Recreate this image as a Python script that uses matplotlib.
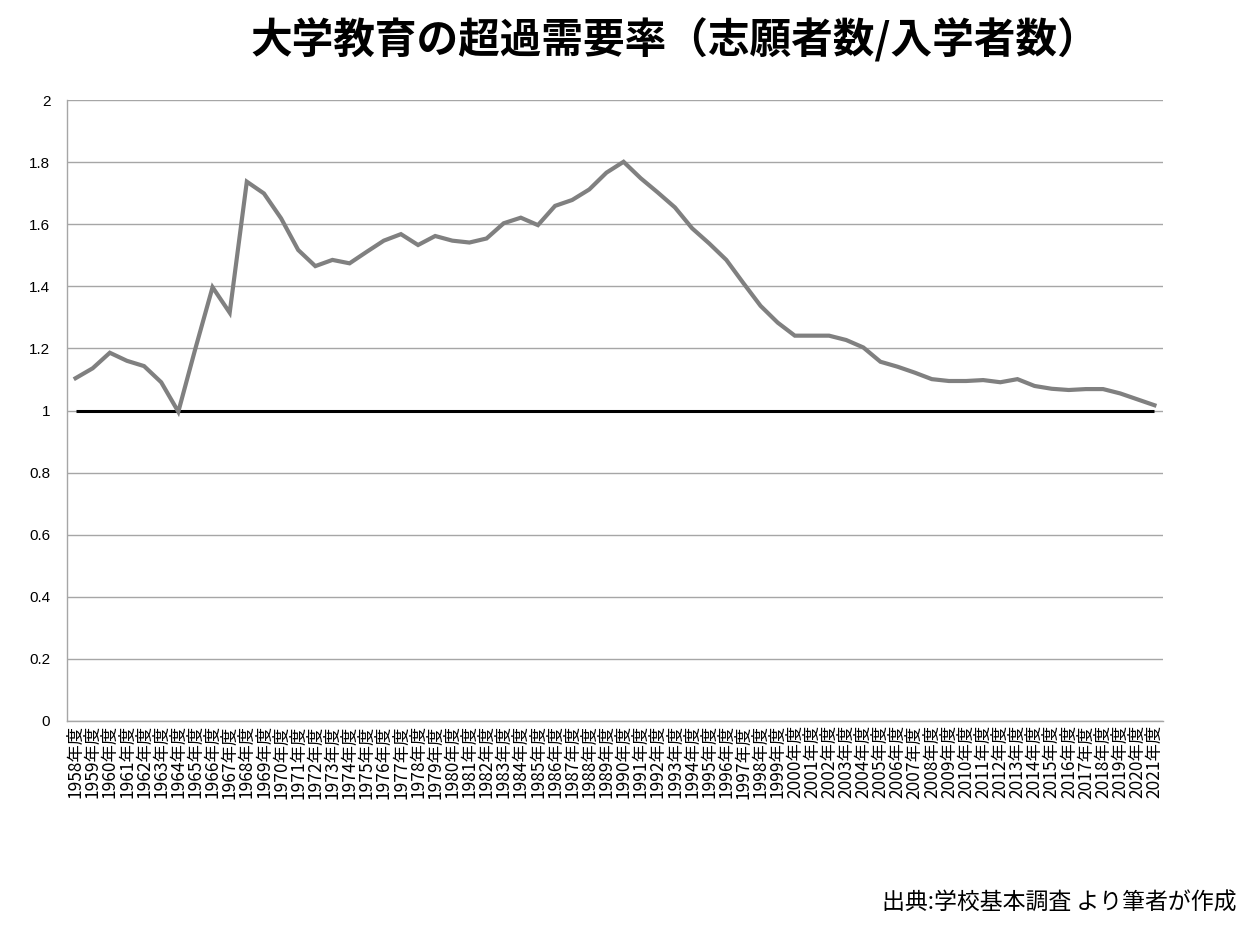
import matplotlib
matplotlib.use("Agg")
import matplotlib.pyplot as plt

plt.rcParams['font.family'] = ['Noto Sans CJK JP', 'DejaVu Sans']

years = list(range(1958, 2022))
labels = [f"{y}年度" for y in years]
ratio = [1.104, 1.136, 1.186, 1.160, 1.143, 1.091, 0.996, 1.200, 1.397, 1.315,
         1.737, 1.699, 1.619, 1.517, 1.465, 1.485, 1.474, 1.511, 1.547, 1.568,
         1.533, 1.562, 1.547, 1.541, 1.554, 1.603, 1.621, 1.597, 1.659, 1.678,
         1.712, 1.766, 1.801, 1.748, 1.702, 1.654, 1.587, 1.538, 1.485, 1.410,
         1.337, 1.283, 1.241, 1.241, 1.241, 1.227, 1.203, 1.157, 1.141, 1.122,
         1.101, 1.095, 1.095, 1.098, 1.091, 1.101, 1.079, 1.070, 1.066, 1.069,
         1.069, 1.055, 1.036, 1.017]
baseline = [1.0] * len(years)
yticks = [0, 0.2, 0.4, 0.6, 0.8, 1, 1.2, 1.4, 1.6, 1.8, 2]
ytick_labels = ["0", "0.2", "0.4", "0.6", "0.8", "1", "1.2", "1.4", "1.6", "1.8", "2"]

title = "大学教育の超過需要率（志願者数/入学者数）"
source = "出典:学校基本調査 より筆者が作成"

fig = plt.figure(figsize=(12.56, 9.25), dpi=100)
ax = fig.add_axes([67/1256, 1-721/925, (1163-67)/1256, (721-100)/925])

x = list(range(len(years)))
ax.plot(x, baseline, color='black', lw=2.2, solid_capstyle='butt', zorder=3)
ax.plot(x, ratio, color='#808080', lw=3.0, solid_joinstyle='miter', zorder=4)

ax.set_xlim(-0.5, len(years) - 0.5)
ax.set_ylim(0, 2)
ax.set_yticks(yticks)
ax.set_yticklabels(ytick_labels, fontsize=11, family=['Liberation Sans'])
ax.set_xticks(x)
ax.set_xticklabels(labels, rotation=90, fontsize=12.5)
ax.tick_params(axis='both', length=0)
ax.tick_params(axis='y', pad=12)
ax.tick_params(axis='x', pad=3)
ax.yaxis.grid(True, color='#a6a6a6', lw=1.0)
ax.set_axisbelow(True)
for s in ['top', 'right']:
    ax.spines[s].set_visible(False)
for s in ['left', 'bottom']:
    ax.spines[s].set_color('#a6a6a6')
    ax.spines[s].set_linewidth(1.0)

fig.text(675/1256, 1-40/925, title, ha='center', va='center', fontsize=30, fontweight='bold')
fig.text(1236/1256, 1-903/925, source, ha='right', va='center', fontsize=16.5)

fig.savefig('out.png', dpi=100)
